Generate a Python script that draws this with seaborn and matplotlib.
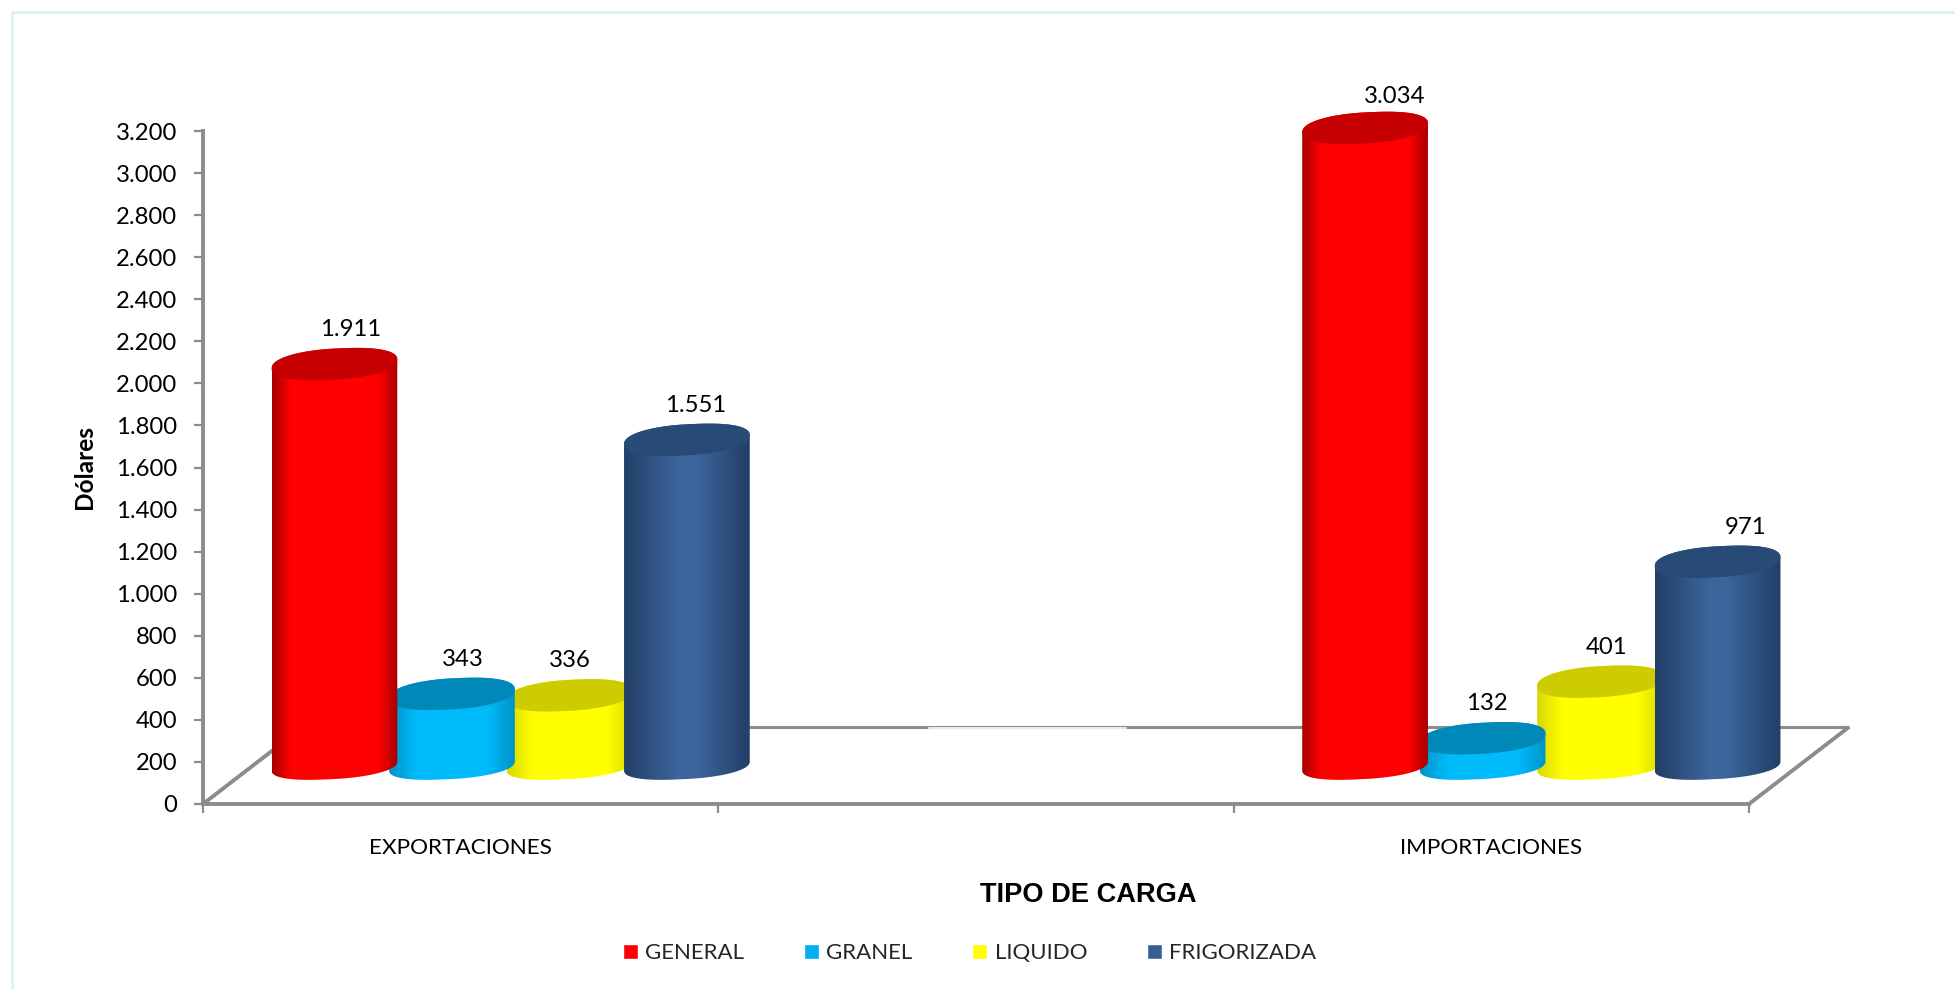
import numpy as np
import pandas as pd
import matplotlib
matplotlib.use('Agg')
import matplotlib.pyplot as plt
import seaborn as sns
from matplotlib.colors import LinearSegmentedColormap
from matplotlib.lines import Line2D
from matplotlib.patches import Polygon

# the chart's values
categories = ['EXPORTACIONES', ' ', 'IMPORTACIONES']
series = ['GENERAL', 'GRANEL', 'LIQUIDO', 'FRIGORIZADA']
general = [1911, np.nan, 3034]
granel = [343, np.nan, 132]
liquido = [336, np.nan, 401]
frigorizada = [1551, np.nan, 971]
y_ticks = [0, 200, 400, 600, 800, 1000, 1200, 1400, 1600, 1800, 2000, 2200, 2400, 2600, 2800, 3000, 3200]
y_labels = ['0', '200', '400', '600', '800', '1.000', '1.200', '1.400', '1.600', '1.800', '2.000',
            '2.200', '2.400', '2.600', '2.800', '3.000', '3.200']
label_text = [['1.911', '3.034'], ['343', '132'], ['336', '401'], ['1.551', '971']]

# styles
legend_colors = ['#FF0000', '#00B0F0', '#FFFF00', '#376092']
edge_colors = ['#A80000', '#0094C8', '#D8D800', '#223F66']
mid_colors = ['#FF0000', '#00BBFA', '#FFFF00', '#3C659C']
cap_colors = ['#C60000', '#0088B8', '#CCCC00', '#284A76']
shade_width = [0.15, 0.22, 0.2, 0.42]
bar_order = [4, 3, 2, 5]
label_dx = [[16, 30], [11, 4], [0, 6], [9, 28]]
label_dy = [[34.5, 31], [34.5, 34.5], [34.5, 34.5], [34.5, 34.5]]
GRAY = '#8C8C8C'
W, H = 1955, 989

sns.set_theme(style='white')
plt.rcParams['font.family'] = ['Lato', 'DejaVu Sans']

data = pd.DataFrame({
    'tipo': categories * 4,
    'carga': [s for s in series for _ in categories],
    'valor': general + granel + liquido + frigorizada,
})

fig = plt.figure(figsize=(W / 100, H / 100), dpi=100, facecolor='white')


def box(left, top, right, bottom):
    return [left / W, 1 - bottom / H, (right - left) / W, (bottom - top) / H]


# frame of the chart: only the left and top edges show
fig.add_artist(Line2D([12 / W, 12 / W, 1], [0, 1 - 12 / H, 1 - 12 / H], color='#DAEEF3', lw=1.8))

# main axes: value scale and floor
ax = fig.add_axes(box(203, 131, 1749, 804))
ax.patch.set_alpha(0)
ax.set_xlim(-0.5, 2.5)
ax.set_ylim(0, 3200)
ax.set_yticks(y_ticks, labels=y_labels)
ax.set_xticks([-0.5, 0.5, 1.5, 2.5], labels=[])
ax.set_xticks([0, 1, 2], labels=categories, minor=True)
ax.tick_params(axis='both', which='major', length=6.5, width=1.6, color=GRAY, left=True, bottom=True,
               labelsize=17.2, labelcolor='black', pad=12)
ax.tick_params(axis='x', which='minor', length=0, labelsize=16.2, labelcolor='black', pad=24.5)
for side in ['top', 'right']:
    ax.spines[side].set_visible(False)
for side in ['left', 'bottom']:
    ax.spines[side].set_color(GRAY)
    ax.spines[side].set_linewidth(2.8)

depth_x, depth_y = 100 / 1546, 77 / 673
floor_kw = dict(transform=ax.transAxes, color=GRAY, clip_on=False, solid_capstyle='butt')
ax.plot([0, depth_x], [0, depth_y], lw=2.8, **floor_kw)
ax.plot([1, 1 + depth_x], [0, depth_y], lw=2.8, **floor_kw)
ax.plot([depth_x, 1 + depth_x], [depth_y, depth_y], lw=2.2, **floor_kw)
ax.plot([(929 - 203) / 1546, (1126 - 203) / 1546], [depth_y - 0.001, depth_y - 0.001], transform=ax.transAxes,
        color='#EDEDED', lw=1.4, clip_on=False)

ax.set_xlabel('TIPO DE CARGA', fontsize=19.6, fontweight='bold', family='Liberation Sans', color='black', va='center')
ax.xaxis.set_label_coords((1088 - 203) / 1546, -(895 - 804) / 673)
ax.set_ylabel('Dólares', fontsize=17.6, fontweight='bold', color='black', va='center')
ax.yaxis.set_label_coords(-(203 - 84) / 1546, (804 - 467) / 673)

# bars live on a copy of the axes moved back along the floor depth
ax_bars = fig.add_axes(box(203 + 50, 131 - 38, 1749 + 50, 804 - 38))
ax_bars.patch.set_alpha(0)
sns.barplot(data=data, x='tipo', y='valor', hue='carga', order=categories, hue_order=series,
            palette=legend_colors, saturation=1, width=0.912, gap=-0.07, errorbar=None, ax=ax_bars)
ax_bars.set_xlim(-0.5, 2.5)
ax_bars.set_ylim(0, 3200)
ax_bars.axis('off')

sns.move_legend(ax_bars, 'center', bbox_to_anchor=(969.5 / W, 1 - 953 / H), bbox_transform=fig.transFigure,
                ncol=4, title=None, frameon=False, fontsize=16, handlelength=0.68, handleheight=0.68,
                handletextpad=0.32, columnspacing=2.7)

unit = 3200 / 673  # value units per pixel
top_radius = 15.5 * unit
base_radius = 13 * unit
tilt = 4.5 * unit
angle_down = np.linspace(np.pi, 2 * np.pi, 60)
angle_up = np.linspace(0, np.pi, 60)


def fat(v):
    # a bit squarer than a true ellipse, like the reference caps
    return np.sign(v) * np.abs(v) ** 0.88


for i, container in enumerate(ax_bars.containers):
    s = shade_width[i]
    cmap = LinearSegmentedColormap.from_list(
        series[i], [(0, edge_colors[i]), (s, mid_colors[i]), (1 - s, mid_colors[i]), (1, edge_colors[i])])
    bars = [b for b in container.patches if b.get_height() > 0]
    for j, bar in enumerate(bars):
        bar.set_visible(False)
        cx = bar.get_x() + bar.get_width() / 2
        rx = bar.get_width() / 2
        value = bar.get_height()

        def ring(t, base, radius):
            return np.column_stack([cx + rx * fat(np.cos(t)), base + radius * fat(np.sin(t)) + tilt * np.cos(t)])

        outline = np.vstack([ring(angle_down, 0, base_radius), ring(angle_up, value, top_radius)])
        body = Polygon(outline, closed=True, transform=ax_bars.transData, fc='none', ec='none')
        ax_bars.add_patch(body)
        im = ax_bars.imshow(np.linspace(0, 1, 128)[None, :], cmap=cmap, aspect='auto', interpolation='bilinear',
                            extent=[cx - rx, cx + rx, -3 * top_radius, value + 3 * top_radius], zorder=bar_order[i])
        im.set_clip_path(body)
        im.set_clip_box(fig.bbox)
        ax_bars.add_patch(Polygon(ring(np.linspace(0, 2 * np.pi, 120), value, top_radius), closed=True,
                                  fc=cap_colors[i], ec='none', clip_on=False, zorder=bar_order[i] + 0.1))
        ax_bars.annotate(label_text[i][j], (cx, value), xytext=(label_dx[i][j] * 0.72, label_dy[i][j] * 0.72),
                         textcoords='offset points', ha='center', va='center', fontsize=17.2, color='black',
                         annotation_clip=False, zorder=10)

ax_bars.set_xlim(-0.5, 2.5)
ax_bars.set_ylim(0, 3200)

fig.savefig('out.png', dpi=100)
